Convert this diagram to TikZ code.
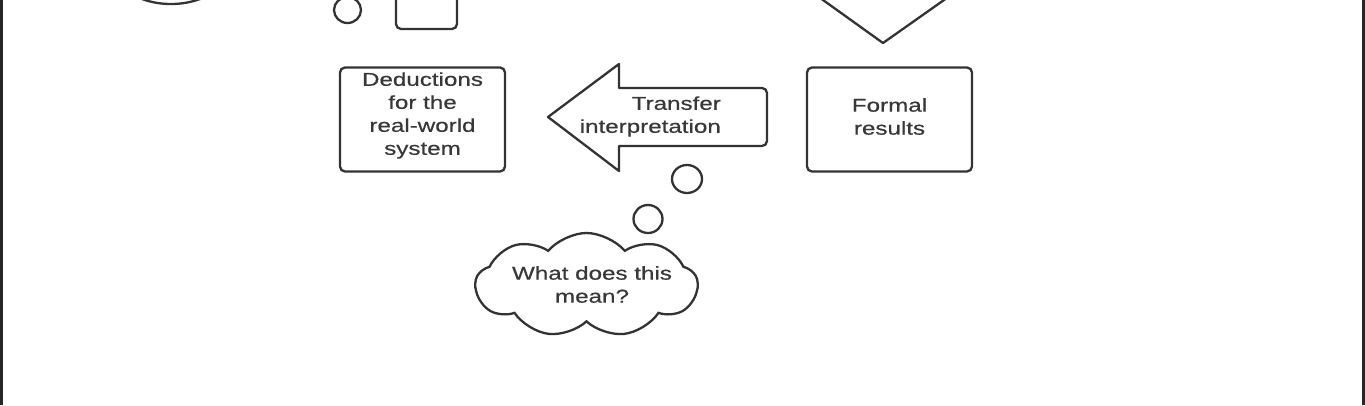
\documentclass[tikz,border=0pt]{standalone}
\usepackage{fontspec}
\setmainfont{Liberation Sans}[FakeStretch=1.3, FakeBold=0.6]
\usetikzlibrary{shapes.symbols,shapes.geometric}
\definecolor{ink}{HTML}{333333}
\definecolor{txt}{HTML}{383838}
\begin{document}
\begin{tikzpicture}[x=1pt,y=-1pt,
  line width=2.3pt, draw=ink,
  every node/.style={font=\fontsize{18.6}{23}\selectfont, text=txt, inner sep=0pt},
  boxshape/.style={draw=ink, rounded corners=5pt, minimum width=165pt, minimum height=104pt},
  bubble/.style={draw=ink, ellipse, minimum width=30pt, minimum height=28pt},
  lbl/.style={align=center},
  borderline/.style={draw=black!85, line width=3pt}]
\useasboundingbox (0,0) rectangle (1365,405);
\begin{scope}
\clip (0,0) rectangle (1365,405);
% partial shapes at the top
\draw[ink] (171,-36) ellipse [x radius=60, y radius=40];
\node[bubble, minimum width=27pt, minimum height=26pt] (topbub) at (347.5,10) {};
\draw[ink, rounded corners=5pt] (396,-40) rectangle (457,29);
\draw[ink, line join=round] (763,-43) -- (883,43) -- (1005,-43);
% boxes
\node[boxshape] (ded) at (422.5,119.5) {};
\node[lbl] (dedtxt) at (422.5,115.5) {Deductions\\for the\\real-world\\system};
\node[boxshape] (formal) at (889.5,119.5) {};
\node[lbl] (formaltxt) at (889.5,116.5) {Formal\\results};
% block arrow
\draw[ink, line join=round] (548,117) -- (619,64) -- (619,88) -- (762,88)
  arc[start angle=-90, end angle=0, radius=5] -- (767,141)
  arc[start angle=0, end angle=90, radius=5] -- (619,146) -- (619,171) -- cycle;
\node[align=right, anchor=east] (arrowtxt) at (722,116.5) {Transfer\\interpretation};
% thought bubbles
\node[bubble] (b1) at (687,179) {};
\node[bubble, minimum width=29pt] (b2) at (648,219) {};
\node[draw=ink, cloud, cloud puffs=9, cloud puff arc=100, aspect=2.1,
      minimum width=222pt, minimum height=104pt] (cloud) at (586.5,285) {};
\node[lbl] (cloudtxt) at (592,284.5) {What does this\\mean?};
% frame lines
\draw[borderline] (1.5,0) -- (1.5,405);
\draw[borderline] (1363.5,0) -- (1363.5,405);
\end{scope}
\end{tikzpicture}
\end{document}
